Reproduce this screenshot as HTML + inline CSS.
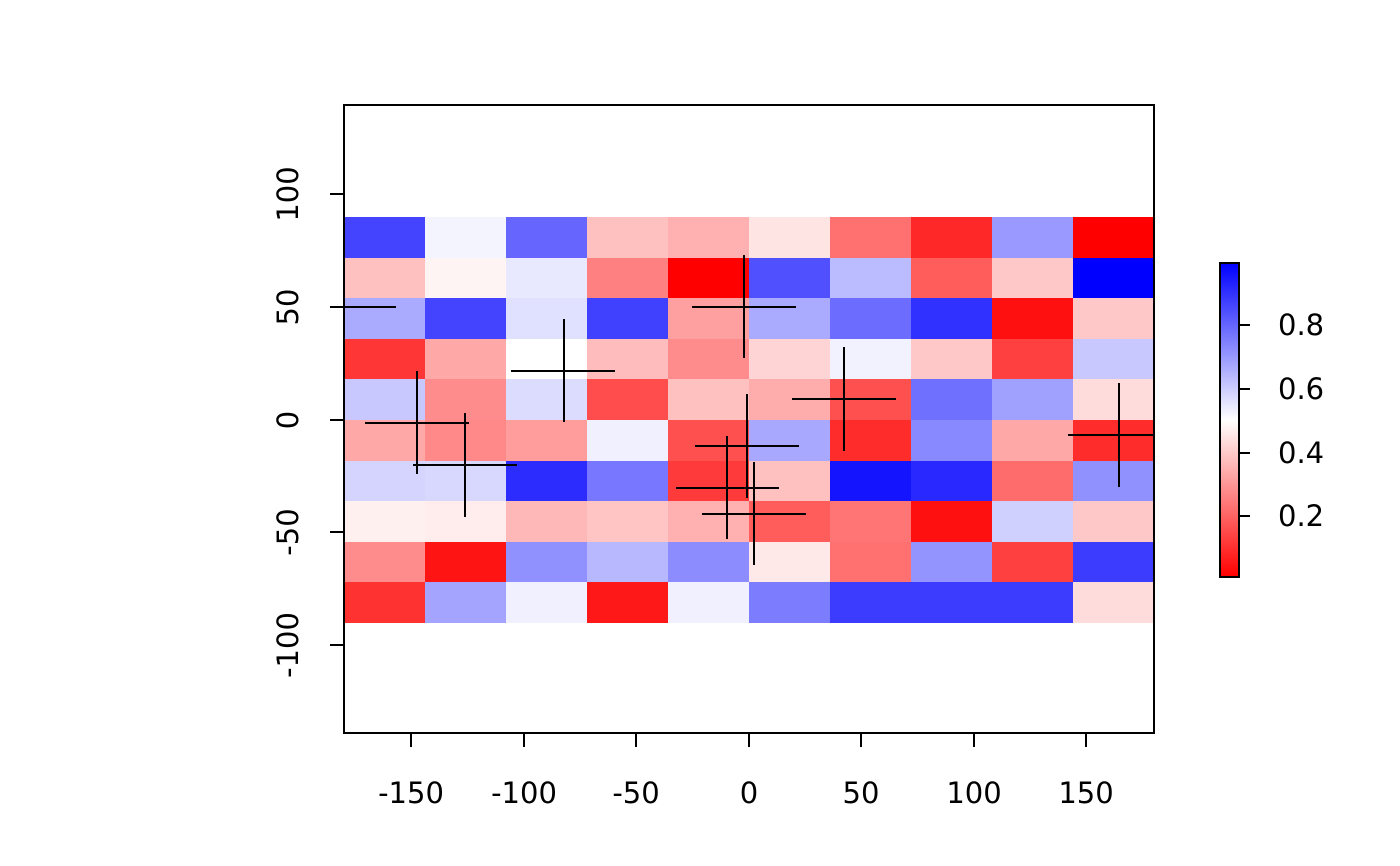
<!DOCTYPE html>
<html><head><meta charset="utf-8"><style>html,body{margin:0;padding:0;background:#fff}svg{display:block}</style></head><body>
<svg width="1400" height="866" viewBox="0 0 1400 866" xmlns="http://www.w3.org/2000/svg" font-family="DejaVu Sans, Liberation Sans, sans-serif" font-size="29">
<defs>
<linearGradient id="cb" x1="0" y1="1" x2="0" y2="0">
<stop offset="0" stop-color="#ff0000"/><stop offset="0.5" stop-color="#ffffff"/><stop offset="1" stop-color="#0000ff"/>
</linearGradient>
<clipPath id="pc"><rect x="344" y="105" width="810" height="628"/></clipPath>
</defs>
<g id="cells" shape-rendering="crispEdges"></g>
<g clip-path="url(#pc)" stroke="#000" stroke-width="2">
<line x1="330" y1="307" x2="396" y2="307"/>
<line x1="744" y1="255" x2="744" y2="358"/><line x1="692" y1="307" x2="796" y2="307"/>
<line x1="564" y1="319" x2="564" y2="422"/><line x1="511" y1="371" x2="615" y2="371"/>
<line x1="844" y1="347" x2="844" y2="451"/><line x1="792" y1="399" x2="896" y2="399"/>
<line x1="417" y1="371" x2="417" y2="474"/><line x1="365" y1="423" x2="469" y2="423"/>
<line x1="465" y1="413" x2="465" y2="517"/><line x1="413" y1="465" x2="517" y2="465"/>
<line x1="747" y1="394" x2="747" y2="498"/><line x1="695" y1="446" x2="799" y2="446"/>
<line x1="1119" y1="383" x2="1119" y2="487"/><line x1="1068" y1="435" x2="1170" y2="435"/>
<line x1="727" y1="436" x2="727" y2="539"/><line x1="676" y1="488" x2="779" y2="488"/>
<line x1="754" y1="462" x2="754" y2="565"/><line x1="702" y1="514" x2="806" y2="514"/>
</g>
<rect x="344" y="105" width="810" height="628" fill="none" stroke="#000" stroke-width="2"/>
<g stroke="#000" stroke-width="2">
<line x1="524" y1="733" x2="524" y2="747"/><line x1="636" y1="733" x2="636" y2="747"/><line x1="749" y1="733" x2="749" y2="747"/><line x1="861" y1="733" x2="861" y2="747"/><line x1="974" y1="733" x2="974" y2="747"/><line x1="1086" y1="733" x2="1086" y2="747"/><line x1="411" y1="733" x2="411" y2="747"/>
<line x1="330" y1="194" x2="344" y2="194"/><line x1="330" y1="307" x2="344" y2="307"/><line x1="330" y1="420" x2="344" y2="420"/><line x1="330" y1="532" x2="344" y2="532"/><line x1="330" y1="645" x2="344" y2="645"/>
</g>
<g text-anchor="middle">
<text x="411" y="803">-150</text><text x="524" y="803">-100</text><text x="636" y="803">-50</text><text x="749" y="803">0</text><text x="861" y="803">50</text><text x="974" y="803">100</text><text x="1086" y="803">150</text>
<text transform="translate(298,194) rotate(-90)">100</text>
<text transform="translate(298,307) rotate(-90)">50</text>
<text transform="translate(298,420) rotate(-90)">0</text>
<text transform="translate(298,532) rotate(-90)">-50</text>
<text transform="translate(298,645) rotate(-90)">-100</text>
</g>
<rect x="1220" y="263" width="19" height="314" fill="url(#cb)" stroke="#000" stroke-width="2"/>
<g stroke="#000" stroke-width="2">
<line x1="1239" y1="325" x2="1250" y2="325"/><line x1="1239" y1="389" x2="1250" y2="389"/><line x1="1239" y1="453" x2="1250" y2="453"/><line x1="1239" y1="516" x2="1250" y2="516"/>
</g>
<g>
<text x="1278" y="335">0.8</text><text x="1278" y="399">0.6</text><text x="1278" y="463">0.4</text><text x="1278" y="526">0.2</text>
</g>
<script>
var rows=[
["#4444ff","#f4f4ff","#6666ff","#ffc0c0","#ffb0b0","#ffe4e4","#ff7070","#ff2828","#9999ff","#ff0000"],
["#ffc0c0","#fff4f4","#e8e8ff","#ff8080","#ff0000","#5050ff","#bbbbff","#ff5c5c","#ffc8c8","#0000ff"],
["#aaaaff","#4444ff","#e0e0ff","#4040ff","#ffa0a0","#aaaaff","#6c6cff","#3030ff","#ff1010","#ffc8c8"],
["#ff3636","#ffa8a8","#ffffff","#ffbcbc","#ff8c8c","#ffd4d4","#f2f2ff","#ffc8c8","#ff4040","#c8c8ff"],
["#c8c8ff","#ff8c8c","#dcdcff","#ff4c4c","#ffc0c0","#ffacac","#ff5050","#7070ff","#a0a0ff","#ffdcdc"],
["#ffa8a8","#ff8888","#ff9c9c","#f0f0ff","#ff5050","#a8a8ff","#ff2c2c","#8888ff","#ffa8a8","#ff2c2c"],
["#d4d4ff","#d8d8ff","#2c2cff","#7777ff","#ff3a3a","#ffc0c0","#1414ff","#2828ff","#ff6c6c","#9090ff"],
["#fff0f0","#ffecec","#ffb8b8","#ffc4c4","#ffb0b0","#ff5c5c","#ff7474","#ff1010","#d0d0ff","#ffc8c8"],
["#ff8c8c","#ff1414","#9090ff","#b8b8ff","#8c8cff","#ffe8e8","#ff7070","#9494ff","#ff4040","#3c3cff"],
["#ff3232","#a4a4ff","#f0f0ff","#ff1818","#f0f0ff","#7c7cff","#3c3cff","#3c3cff","#3c3cff","#ffdcdc"]];
var g=document.getElementById("cells"),ns="http://www.w3.org/2000/svg";
for(var r=0;r<10;r++)for(var c=0;c<10;c++){var e=document.createElementNS(ns,"rect");
var x0=344+c*81,y0=217+r*40.6;e.setAttribute("x",x0);e.setAttribute("y",Math.round(y0));
e.setAttribute("width",81);e.setAttribute("height",Math.round(y0+40.6)-Math.round(y0));e.setAttribute("fill",rows[r][c]);g.appendChild(e);}
</script>
</svg>
</body></html>
